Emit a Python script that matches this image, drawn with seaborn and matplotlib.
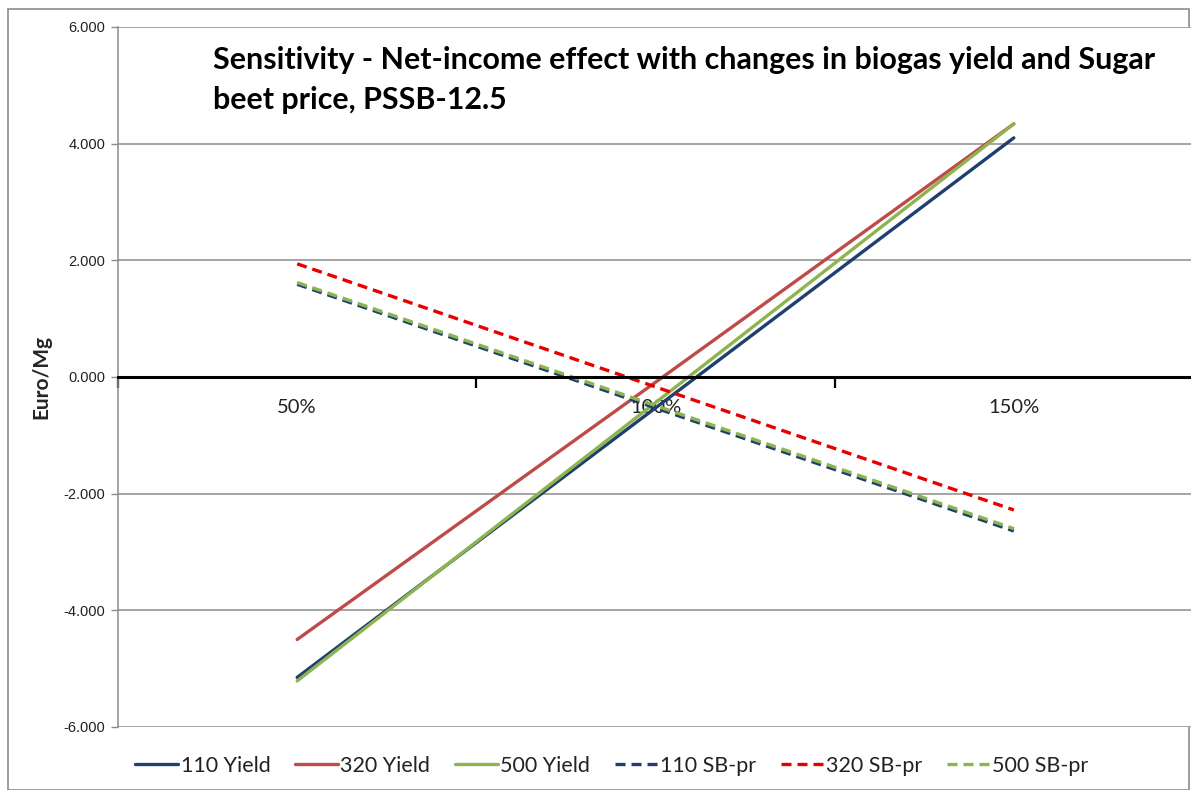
import matplotlib
matplotlib.use("Agg")
import matplotlib.pyplot as plt
from matplotlib.patches import Rectangle
import seaborn as sns
import pandas as pd

# Price / yield levels on the category axis
levels = ["50%", "100%", "150%"]

# Net-income effect (Euro/Mg) per scenario
yield_110 = [-5.15, -0.53, 4.10]
yield_320 = [-4.50, -0.09, 4.34]
yield_500 = [-5.21, -0.44, 4.34]
sbpr_110 = [1.59, -0.53, -2.64]
sbpr_320 = [1.94, -0.17, -2.28]
sbpr_500 = [1.62, -0.49, -2.60]

series_names = ["110 Yield", "320 Yield", "500 Yield",
                "110 SB-pr", "320 SB-pr", "500 SB-pr"]
series_values = [yield_110, yield_320, yield_500, sbpr_110, sbpr_320, sbpr_500]
series_colors = ["#1F3F6E", "#BE4B48", "#8DB44F", "#1F3F6E", "#E80000", "#8DB44F"]
series_dashed = [False, False, False, True, True, True]

y_ticks = [-6, -4, -2, 0, 2, 4, 6]

rows = []
for name, vals in zip(series_names, series_values):
    for i, (lvl, v) in enumerate(zip(levels, vals)):
        rows.append({"series": name, "level": lvl, "pos": i + 0.5, "value": v})
df = pd.DataFrame(rows)

sns.set_theme(style="white")
plt.rcParams["font.family"] = ["Lato", "DejaVu Sans"]

fig = plt.figure(figsize=(11.91, 7.90), dpi=100)
ax = fig.add_axes([118 / 1191, 1 - 727 / 790, (1193 - 118) / 1191, (727 - 27) / 790])

lw = 2.4
for name, color, dashed in zip(series_names, series_colors, series_dashed):
    sub = df[df["series"] == name]
    sns.lineplot(data=sub, x="pos", y="value", ax=ax, color=color, linewidth=lw,
                 label=name, solid_capstyle="round", dash_capstyle="butt")
    if dashed:
        ax.lines[-1].set_dashes((3.0, 1.8))

ax.set_xlim(0, 3)
ax.set_ylim(-6, 6)

# Horizontal gridlines
ax.set_yticks(y_ticks)
ax.set_yticklabels([f"{v:.3f}" for v in y_ticks], fontfamily="Liberation Sans",
                   fontsize=10.5, color="#222222")
for v in y_ticks:
    if v != 0:
        ax.axhline(v, color="#8C8C8C", linewidth=1.1, zorder=0)
ax.tick_params(axis="y", which="major", length=5, width=1, color="#8C8C8C",
               direction="out", left=True, pad=4)

# Category axis crossing at zero
for s in ["top", "right"]:
    ax.spines[s].set_visible(False)
ax.spines["left"].set_color("#8C8C8C")
ax.spines["left"].set_linewidth(1.1)
ax.spines["bottom"].set_position(("data", 0))
ax.spines["bottom"].set_color("black")
ax.spines["bottom"].set_linewidth(2.2)
ax.set_xticks([0, 1, 2, 3])
ax.set_xticklabels([])
ax.set_xticks([0.5, 1.5, 2.5], minor=True)
ax.set_xticklabels(levels, minor=True, fontsize=14.5, color="#222222")
ax.tick_params(axis="x", which="major", length=8, width=1.6, color="black",
               direction="out", bottom=True)
ax.tick_params(axis="x", which="minor", length=0, pad=16)

ax.set_xlabel("")
ax.set_ylabel("Euro/Mg", fontsize=15, fontweight="bold", labelpad=9)

fig.text(213 / 1191, 1 - 46 / 790,
         "Sensitivity - Net-income effect with changes in biogas yield and Sugar\nbeet price, PSSB-12.5",
         ha="left", va="top", fontsize=21.9, fontweight="bold", linespacing=1.5,
         color="black")

leg = ax.legend(loc="center", bbox_to_anchor=(612 / 1191, 1 - 766 / 790),
                bbox_transform=fig.transFigure, ncol=6, frameon=False,
                fontsize=15.5, handlelength=2.0, handletextpad=0.1,
                columnspacing=1.15)
for t in leg.get_texts():
    t.set_color("#222222")

fig.patches.append(Rectangle((8 / 1191, 0.5 / 790), (1189 - 8) / 1191, (781 - 0.5) / 790,
                             transform=fig.transFigure, fill=False,
                             edgecolor="#8C8C8C", linewidth=1.2, zorder=-1))

fig.savefig("out.png", dpi=100)
